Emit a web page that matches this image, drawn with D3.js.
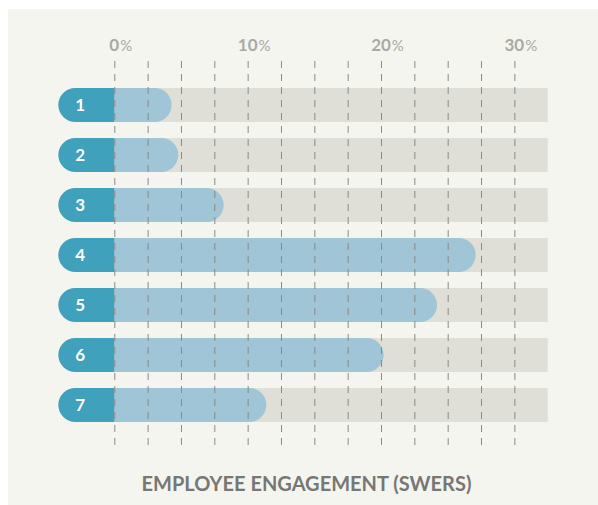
<!DOCTYPE html>
<html>
<head>
<meta charset="utf-8">
<script src="https://cdn.jsdelivr.net/npm/d3@7"></script>
<style>
  html, body { margin: 0; padding: 0; background: #ffffff; }
  svg { display: block; }
  text { font-family: Lato, "Open Sans", sans-serif; }
</style>
</head>
<body>
<div id="chart-area"></div>
<script>
// Chart values
const categories = ["1", "2", "3", "4", "5", "6", "7"];
const engagement = [4.3, 4.8, 8.2, 27.1, 24.2, 20.2, 11.4];
const tickLabels = [0, 10, 20, 30];
const gridValues = [0, 2.5, 5, 7.5, 10, 12.5, 15, 17.5, 20, 22.5, 25, 27.5, 30];
const axisTitle = "EMPLOYEE ENGAGEMENT (SWERS)";

const chartWidth = 598, chartHeight = 505;
const tealColor = "#3fa1bc", valueColor = "#9fc5d6", trackColor = "#dfdfd7";

const svg = d3.select("#chart-area").append("svg")
  .attr("width", chartWidth)
  .attr("height", chartHeight);

// panel background
svg.append("rect")
  .attr("x", 8).attr("y", 9)
  .attr("width", chartWidth - 8).attr("height", chartHeight - 9)
  .attr("fill", "#f5f5f0");

const xScale = d3.scaleLinear().domain([0, 32.5]).range([114.3, 547.7]);
const yScale = d3.scaleBand().domain(categories).range([80, 430])
  .paddingInner(0.32).paddingOuter(0.16);
const bh = yScale.bandwidth(), r = bh / 2;
const rows = categories.map((c, i) => ({ cat: c, value: engagement[i] }));

// grey tracks
svg.append("g").selectAll("rect")
  .data(rows)
  .join("rect")
    .attr("x", xScale(0))
    .attr("y", d => yScale(d.cat))
    .attr("width", xScale(32.5) - xScale(0))
    .attr("height", bh)
    .attr("fill", trackColor);

// value bars with rounded right end
svg.append("g").selectAll("path")
  .data(rows)
  .join("path")
    .attr("d", d => {
      const x0 = xScale(0), xe = xScale(d.value), y = yScale(d.cat);
      return `M${x0},${y}H${xe - r}A${r},${r} 0 0 1 ${xe - r},${y + bh}H${x0}Z`;
    })
    .attr("fill", valueColor);

// label pills with rounded left end
const pillW = 56;
svg.append("g").selectAll("path")
  .data(rows)
  .join("path")
    .attr("d", d => {
      const x1 = xScale(0), xl = x1 - pillW, y = yScale(d.cat);
      return `M${x1},${y}H${xl + r}A${r},${r} 0 0 0 ${xl + r},${y + bh}H${x1}Z`;
    })
    .attr("fill", tealColor);

svg.append("g").selectAll("text")
  .data(rows)
  .join("text")
    .attr("x", xScale(0) - pillW + 22)
    .attr("y", d => yScale(d.cat) + r)
    .attr("dy", "0.36em")
    .attr("text-anchor", "middle")
    .attr("fill", "#ffffff")
    .attr("font-weight", 700)
    .attr("font-size", 17)
    .text(d => d.cat);

// dashed gridlines drawn above bars
const grid = svg.append("g")
  .attr("transform", "translate(0,61)")
  .call(d3.axisBottom(xScale).tickValues(gridValues).tickSize(386).tickFormat(""));
grid.select(".domain").remove();
grid.selectAll(".tick line")
  .attr("stroke", "#8a8a86")
  .attr("stroke-width", 1)
  .attr("stroke-dasharray", "7,6");

// top tick labels, digits centred on the line
const labels = svg.append("g").selectAll("text")
  .data(tickLabels)
  .join("text")
    .attr("y", 51)
    .attr("fill", "#a9a9a5")
    .attr("font-weight", 700)
    .attr("font-size", 17);
labels.append("tspan").attr("class", "num").text(d => d);
labels.append("tspan").attr("font-weight", 400).attr("font-size", 15).attr("dx", 1).text("%");
labels.each(function(d) {
  const w = this.querySelector(".num").getComputedTextLength();
  d3.select(this).attr("x", xScale(d) - w / 2);
});

// axis title
svg.append("text")
  .attr("x", 306.5)
  .attr("y", 491)
  .attr("text-anchor", "middle")
  .attr("fill", "#777773")
  .attr("font-weight", 700)
  .attr("font-size", 20)
  .text(axisTitle);
</script>
</body>
</html>
